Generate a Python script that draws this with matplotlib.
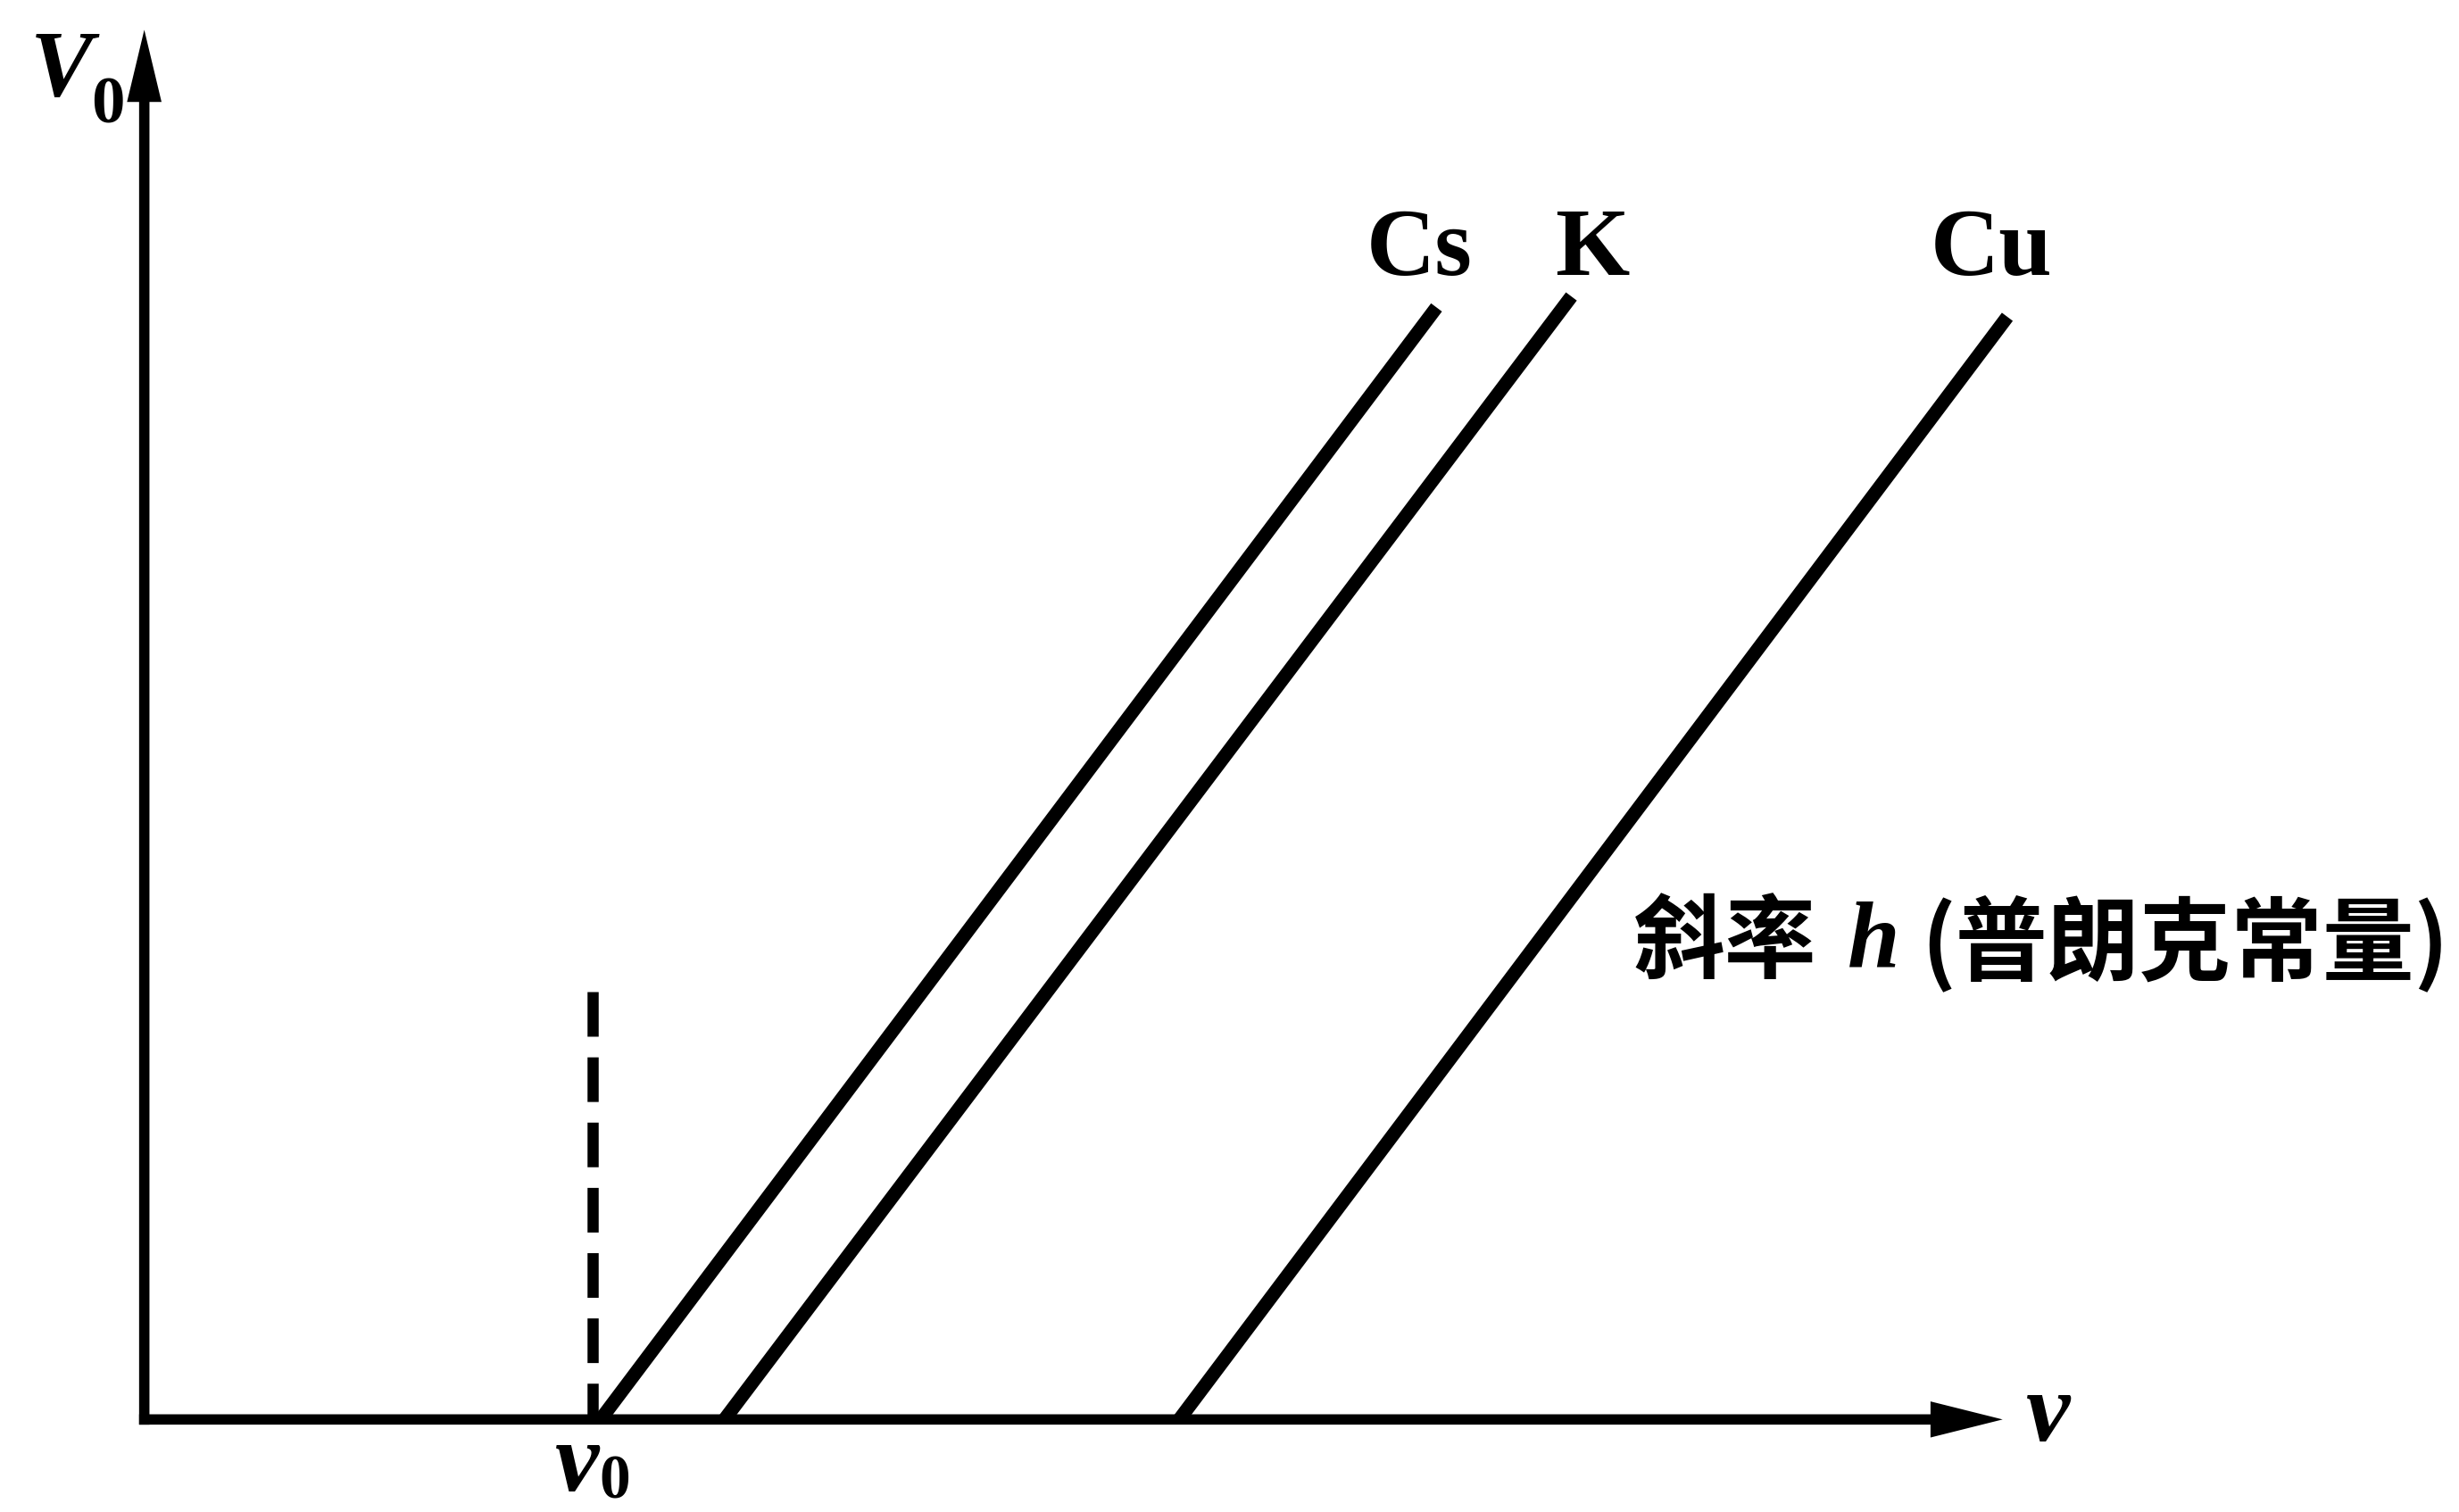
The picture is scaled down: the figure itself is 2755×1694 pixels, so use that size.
import matplotlib
matplotlib.use('Agg')
import matplotlib.pyplot as plt

# stopping voltage vs frequency, three metals (units arbitrary)
metals = ['Cs', 'K', 'Cu']
nu_cut = [2.91, 3.70, 6.60]      # threshold frequency, V0 = 0
nu_top = [8.24, 9.10, 11.88]     # frequency at top end of each line
v_top = [7.09, 7.16, 7.03]       # V0 at top end
label_x = [8.13, 9.23, 11.78]    # where the metal names sit
nu0 = 2.86                       # marked threshold (dashed)
nu0_height = 2.73
x_axis_end = 11.85
y_axis_end = 8.86

serif = dict(fontfamily='Liberation Serif', fontweight='bold')
serif_it = dict(fontfamily='Liberation Serif', fontweight='bold', fontstyle='italic')
cjk = dict(fontfamily='Noto Sans CJK SC', fontweight='bold')

fig = plt.figure(figsize=(27.55, 16.94), dpi=100)
ax = fig.add_axes([0, 0, 1, 1])
ax.set_xlim(-0.92, 14.76)
ax.set_ylim(-0.59, 9.05)
ax.axis('off')

# axes drawn as arrows
w = 0.066
ax.arrow(-w/2, 0, x_axis_end + w/2, 0, width=w, head_width=0.23, head_length=0.46,
         length_includes_head=True, fc='k', ec='none')
ax.arrow(0, -w/2, 0, y_axis_end + w/2, width=w, head_width=0.22, head_length=0.46,
         length_includes_head=True, fc='k', ec='none')

# the three straight lines, same slope h
for i in range(len(metals)):
    ax.plot([nu_cut[i], nu_top[i]], [0, v_top[i]], color='k', lw=11,
            solid_capstyle='butt')
    ax.text(label_x[i], 7.30, metals[i], ha='center', va='baseline',
            fontsize=77, **serif)

# dashed threshold marker
ax.plot([nu0, nu0], [nu0_height, 0], color='k', lw=9, linestyle=(0, (4.0, 1.85)),
        dash_capstyle='butt')

# axis labels
ax.text(-0.73, 8.44, 'V', ha='left', va='baseline', fontsize=76, **serif_it)
ax.text(-0.34, 8.27, '0', ha='left', va='baseline', fontsize=54, **serif)
ax.text(12.00, -0.136, 'ν', ha='left', va='baseline', fontsize=80, **serif_it)
ax.text(2.62, -0.455, 'ν', ha='left', va='baseline', fontsize=80, **serif_it)
ax.text(2.90, -0.585, '0', ha='left', va='bottom', fontsize=50, **serif)

# slope annotation
ax.text(9.495, 3.03, '斜率', ha='left', va='center', fontsize=74, **cjk)
ax.text(10.86, 3.03, 'h', ha='left', va='center', fontsize=76, **serif_it)
ax.text(11.33, 3.03, '(普朗克常量)', ha='left', va='center', fontsize=74, **cjk)

plt.savefig('out.png', dpi=100)
